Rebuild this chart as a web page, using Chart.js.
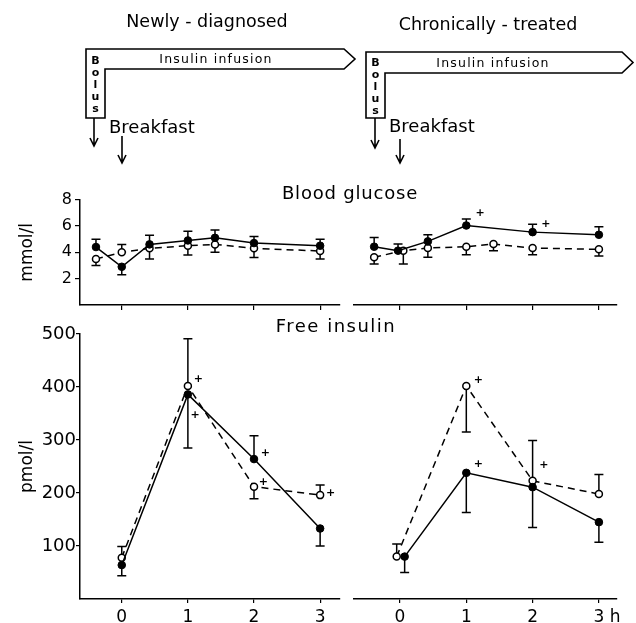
<!DOCTYPE html>
<html>
<head>
<meta charset="utf-8">
<script src="https://cdn.jsdelivr.net/npm/chart.js@4.4.0/dist/chart.umd.min.js"></script>
<style>
body { margin: 0; background: #fff; }
#wrap { position: relative; width: 636px; height: 623px; overflow: hidden; }
canvas { position: absolute; }
svg { position: absolute; left: 0; top: 0; pointer-events: none; font-family: "DejaVu Sans", sans-serif; }
</style>
</head>
<body>
<div id="wrap">
<canvas id="gluN" width="345" height="132" style="left:0;top:187px"></canvas>
<canvas id="gluC" width="291" height="132" style="left:345px;top:187px"></canvas>
<canvas id="insN" width="345" height="301" style="left:0;top:322px"></canvas>
<canvas id="insC" width="291" height="301" style="left:345px;top:322px"></canvas>
<svg width="636" height="623">
  <text x="207" y="27" font-size="17.5" text-anchor="middle">Newly - diagnosed</text>
  <text x="488" y="30" font-size="17.5" text-anchor="middle">Chronically - treated</text>

  <path d="M86,49 H344 L355,59 L344,69 H105 V118 H86 Z" fill="none" stroke="#000" stroke-width="1.6"/>
  <text x="216" y="63" font-size="12.5" letter-spacing="1.2" text-anchor="middle">Insulin infusion</text>
  <g font-size="11" font-weight="bold" text-anchor="middle">
    <text x="95.5" y="64">B</text><text x="95.5" y="76">o</text><text x="95.5" y="88">l</text><text x="95.5" y="100">u</text><text x="95.5" y="112">s</text>
  </g>
  <path d="M94,118 V145 M90,138 L94,146 L98,138" fill="none" stroke="#000" stroke-width="1.6"/>
  <text x="109" y="133" font-size="18">Breakfast</text>
  <path d="M122,136 V162 M118,155 L122,163 L126,155" fill="none" stroke="#000" stroke-width="1.6"/>

  <path d="M366,52 H622 L633,62.5 L622,73 H385 V118 H366 Z" fill="none" stroke="#000" stroke-width="1.6"/>
  <text x="493" y="67" font-size="12.5" letter-spacing="1.2" text-anchor="middle">Insulin infusion</text>
  <g font-size="11" font-weight="bold" text-anchor="middle">
    <text x="375.5" y="66">B</text><text x="375.5" y="78">o</text><text x="375.5" y="90">l</text><text x="375.5" y="102">u</text><text x="375.5" y="114">s</text>
  </g>
  <path d="M375,118 V147 M371,140 L375,148 L379,140" fill="none" stroke="#000" stroke-width="1.6"/>
  <text x="389" y="132" font-size="18">Breakfast</text>
  <path d="M400,139 V162 M396,155 L400,163 L404,155" fill="none" stroke="#000" stroke-width="1.6"/>

  <text x="350" y="199" font-size="18" letter-spacing="0.8" text-anchor="middle">Blood glucose</text>
  <text x="336" y="332" font-size="18" letter-spacing="1.5" text-anchor="middle">Free insulin</text>
</svg>
</div>
<script>
// Zeitpunkte in Stunden (0 = Frühstück)
const gluTimes = [-0.39, 0, 0.42, 1, 1.41, 2, 3];
const gluChrFilledTimes = [-0.39, -0.03, 0.42, 1, 1.41, 2, 3];
const gluChrOpenTimes = [-0.39, 0.05, 0.42, 1, 1.41, 2, 3];
const insTimes = [0, 1, 2, 3];
const insChrFilledTimes = [0.07, 1, 2, 3];
const insChrOpenTimes = [-0.05, 1, 2, 3];

// Blutzucker (mmol/l), Fehlerbalken als Endwert
const gluNewFilled = [4.4, 2.9, 4.6, 4.9, 5.1, 4.7, 4.5];
const gluNewFilledErr = [5.0, 2.3, 5.3, 5.6, 5.7, 5.2, 5.0];
const gluNewOpen = [3.5, 4.0, 4.3, 4.5, 4.6, 4.3, 4.1];
const gluNewOpenErr = [3.0, 4.6, 3.5, 3.8, 4.0, 3.6, 3.5];
const gluChrFilled = [4.4, 4.1, 4.8, 6.0, null, 5.5, 5.3];
const gluChrFilledErr = [5.1, 4.6, 5.3, 6.5, null, 6.1, 5.9];
const gluChrOpen = [3.6, 4.1, 4.3, 4.4, 4.6, 4.3, 4.2];
const gluChrOpenErr = [3.1, 3.1, 3.6, 3.8, 4.1, 3.8, 3.7];

// Freies Insulin (pmol/l)
const insNewFilled = [64, 386, 264, 133];
const insNewFilledErr = [44, 285, 308, 100];
const insNewOpen = [78, 402, 212, 196];
const insNewOpenErr = [99, 491, 189, 215];
const insChrFilled = [80, 238, 211, 145];
const insChrFilledErr = [50, 163, 135, 107];
const insChrOpen = [80, 402, 223, 198];
const insChrOpenErr = [104, 315, 299, 235];

// Signifikanz-Markierungen (+) [Zeit, Wert]
const gluChrSig = [[1.21, 6.9], [2.2, 6.1]];
const insNewSig = [[1.16, 415], [1.11, 347], [2.17, 275], [2.14, 221], [3.16, 200]];
const insChrSig = [[1.18, 413], [1.18, 255], [2.17, 253]];

const xTicks = [0, 1, 2, 3];
const gluTicks = [2, 4, 6, 8];
const insTicks = [100, 200, 300, 400, 500];

Chart.defaults.font.family = '"DejaVu Sans", sans-serif';
Chart.defaults.color = '#000';

const sigByChart = { gluN: [], gluC: gluChrSig, insN: insNewSig, insC: insChrSig };

function pts(times, vals, errs) {
    return times.map((t, i) => ({ x: t, y: vals[i], e: errs[i] })).filter(p => p.y !== null);
}

function series(times, vals, errs, open) {
    return {
        data: pts(times, vals, errs),
        borderColor: '#000',
        borderWidth: 1.5,
        borderDash: open ? [7, 5] : [],
        pointRadius: open ? 3.5 : 3.8,
        pointBackgroundColor: open ? '#fff' : '#000',
        pointBorderColor: '#000',
        pointBorderWidth: open ? 1.5 : 1,
        tension: 0
    };
}

// Fehlerbalken
const errorBars = {
    id: 'errorBars',
    beforeDatasetsDraw(chart) {
        const ctx = chart.ctx, xs = chart.scales.x, ys = chart.scales.y;
        ctx.save();
        ctx.strokeStyle = '#000';
        ctx.lineWidth = 1.5;
        chart.data.datasets.forEach(ds => {
            ds.data.forEach(p => {
                if (p.e == null) return;
                const x = xs.getPixelForValue(p.x);
                const y0 = ys.getPixelForValue(p.y);
                const y1 = ys.getPixelForValue(p.e);
                ctx.beginPath();
                ctx.moveTo(x, y0);
                ctx.lineTo(x, y1);
                ctx.moveTo(x - 4.5, y1);
                ctx.lineTo(x + 4.5, y1);
                ctx.stroke();
            });
        });
        ctx.restore();
    }
};

const sigMarks = {
    id: 'sigMarks',
    afterDatasetsDraw(chart) {
        const ctx = chart.ctx;
        ctx.save();
        ctx.font = 'bold 11px "DejaVu Sans"';
        ctx.fillStyle = '#000';
        ctx.textAlign = 'center';
        ctx.textBaseline = 'middle';
        (sigByChart[chart.canvas.id] || []).forEach(([t, v]) => {
            ctx.fillText('+', chart.scales.x.getPixelForValue(t), chart.scales.y.getPixelForValue(v));
        });
        ctx.restore();
    }
};

function makeChart(id, cfg) {
    const yScale = cfg.left ? {
        min: cfg.yMin, max: cfg.yMax,
        afterBuildTicks: s => { s.ticks = cfg.yTicks.map(v => ({ value: v })); },
        afterFit: s => { s.width = 80; },
        ticks: { font: { size: cfg.yFont }, color: '#000', padding: cfg.yPad },
        grid: { drawOnChartArea: false, color: '#000', lineWidth: 1.2, tickLength: cfg.yTick },
        border: { color: '#000', width: 1.5 },
        title: { display: true, text: cfg.yTitle, font: { size: 17 }, color: '#000', padding: { top: 17, bottom: 0 } }
    } : { display: false, min: cfg.yMin, max: cfg.yMax };

    return new Chart(document.getElementById(id), {
        type: 'line',
        data: { datasets: cfg.datasets },
        options: {
            responsive: false,
            animation: false,
            events: [],
            layout: { padding: cfg.padding },
            plugins: { legend: { display: false }, tooltip: { enabled: false } },
            scales: {
                x: {
                    type: 'linear',
                    min: cfg.xMin, max: cfg.xMax,
                    afterBuildTicks: s => { s.ticks = xTicks.map(v => ({ value: v })); },
                    afterFit: s => { s.height = cfg.xHeight; },
                    ticks: {
                        font: { size: 17 }, color: '#000', padding: 4, maxRotation: 0,
                        callback: cfg.xLabel
                    },
                    grid: { drawOnChartArea: false, color: '#000', lineWidth: 1.2, tickLength: cfg.xTick },
                    border: { color: '#000', width: 1.5 }
                },
                y: yScale
            }
        },
        plugins: [errorBars, sigMarks]
    });
}

const noLabel = () => '';

// Blutzucker, neu diagnostiziert
const chartGluN = makeChart('gluN', {
    left: true,
    datasets: [
        series(gluTimes, gluNewFilled, gluNewFilledErr, false),
        series(gluTimes, gluNewOpen, gluNewOpenErr, true)
    ],
    padding: { top: 12, right: 4, bottom: 0, left: 0 },
    xMin: -0.6316, xMax: 3.293, xHeight: 14, xTick: 5, xLabel: noLabel,
    yMin: 0, yMax: 8, yTicks: gluTicks, yFont: 16, yPad: 3, yTick: 5, yTitle: 'mmol/l'
});

// Blutzucker, chronisch behandelt
const chartGluC = makeChart('gluC', {
    left: false,
    datasets: [
        series(gluChrFilledTimes, gluChrFilled, gluChrFilledErr, false),
        series(gluChrOpenTimes, gluChrOpen, gluChrOpenErr, true)
    ],
    padding: { top: 12, right: 19, bottom: 0, left: 9 },
    xMin: -0.694, xMax: 3.273, xHeight: 14, xTick: 5, xLabel: noLabel,
    yMin: 0, yMax: 8
});

// Freies Insulin, neu diagnostiziert
const chartInsN = makeChart('insN', {
    left: true,
    datasets: [
        series(insTimes, insNewFilled, insNewFilledErr, false),
        series(insTimes, insNewOpen, insNewOpenErr, true)
    ],
    padding: { top: 12, right: 4, bottom: 0, left: 0 },
    xMin: -0.6316, xMax: 3.293, xHeight: 24, xTick: 4, xLabel: v => String(v),
    yMin: 0, yMax: 500, yTicks: insTicks, yFont: 18, yPad: 0, yTick: 4, yTitle: 'pmol/l'
});

// Freies Insulin, chronisch behandelt
const chartInsC = makeChart('insC', {
    left: false,
    datasets: [
        series(insChrFilledTimes, insChrFilled, insChrFilledErr, false),
        series(insChrOpenTimes, insChrOpen, insChrOpenErr, true)
    ],
    padding: { top: 12, right: 19, bottom: 0, left: 9 },
    xMin: -0.694, xMax: 3.273, xHeight: 24, xTick: 4,
    xLabel: v => (v === 3 ? '   3 h' : String(v)),
    yMin: 0, yMax: 500
});
</script>
</body>
</html>
